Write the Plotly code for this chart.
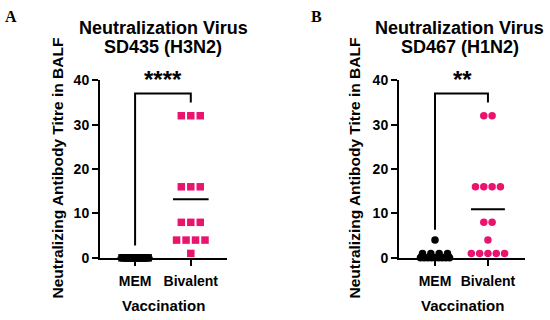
import numpy as np
import plotly.graph_objects as go

groups = ["MEM", "Bivalent"]
a_mem = [0, 0, 0, 0, 0, 0, 0, 0, 0, 0, 0, 0, 0, 0]
a_biv = [32, 32, 32, 16, 16, 16, 8, 8, 8, 4, 4, 4, 4, 1]
b_mem = [4, 1, 1, 1, 1, 0, 0, 0, 0, 0, 0, 0, 0, 0]
b_biv = [32, 32, 16, 16, 16, 16, 8, 8, 4, 1, 1, 1, 1, 1]
y_ticks = [0, 10, 20, 30, 40]
title_line1 = ["Neutralization Virus", "Neutralization Virus"]
title_line2 = ["SD435 (H3N2)", "SD467 (H1N2)"]
stars = ["****", "**"]
letters = ["A", "B"]

PINK = "#E8146E"
W, H = 550, 320
FONT = "Liberation Sans, Arial, sans-serif"


def swarm(values, center, step, maxw):
    xs, ys = [], []
    vals = np.array(values)
    for v in sorted(set(values), reverse=True):
        n = int((vals == v).sum())
        sp = step if n < 2 else min(step, maxw / (n - 1))
        for i in range(n):
            xs.append(center + (i - (n - 1) / 2) * sp)
            ys.append(v)
    return xs, ys


fig = go.Figure()

panels = [
    dict(mem=a_mem, biv=a_biv, sym="square", step=0.17, size=7.5,
         xdom=(100, 227), xr=(-0.63, 1.65), mem_w=0.47, bracket=(2.8, 37, 35)),
    dict(mem=b_mem, biv=b_biv, sym="circle", step=0.157, size=7.5,
         xdom=(399, 525), xr=(-0.68, 1.70), mem_w=0.55, bracket=(6.3, 37, 35)),
]

ydom = (1 - 263 / H, 1 - 76 / H)

for k, p in enumerate(panels):
    xa = "x" if k == 0 else "x2"
    ya = "y" if k == 0 else "y2"
    mx, my = swarm(p["mem"], 0, p["step"], p["mem_w"])
    fig.add_trace(go.Scatter(x=mx, y=my, mode="markers", xaxis=xa, yaxis=ya,
                             marker=dict(symbol=p["sym"], size=p["size"], color="black"),
                             cliponaxis=False, showlegend=False))
    bx, by = swarm(p["biv"], 1, p["step"], 0.8)
    fig.add_trace(go.Scatter(x=bx, y=by, mode="markers", xaxis=xa, yaxis=ya,
                             marker=dict(symbol=p["sym"], size=p["size"], color=PINK),
                             cliponaxis=False, showlegend=False))
    for gi, vals in enumerate([p["mem"], p["biv"]]):
        m = float(np.mean(vals))
        fig.add_trace(go.Scatter(x=[gi - 0.32, gi + 0.32], y=[m, m], mode="lines",
                                 xaxis=xa, yaxis=ya, line=dict(color="black", width=2),
                                 cliponaxis=False, showlegend=False))
    lo, top, right = p["bracket"]
    fig.add_trace(go.Scatter(x=[0, 0, 1, 1], y=[lo, top, top, right], mode="lines",
                             xaxis=xa, yaxis=ya, line=dict(color="black", width=2),
                             cliponaxis=False, showlegend=False))

    x0, x1 = p["xdom"]
    axis_x = dict(domain=[x0 / W, x1 / W], range=list(p["xr"]), tickmode="array",
                  tickvals=[0, 1], ticktext=groups, ticks="outside", ticklen=6,
                  tickwidth=2, tickcolor="black", showline=True, linewidth=2,
                  linecolor="black", showgrid=False, zeroline=False,
                  ticklabelstandoff=3,
                  tickfont=dict(family=FONT, size=14, color="black", weight="bold"),
                  anchor=ya, fixedrange=True)
    axis_y = dict(domain=list(ydom), range=[0, 40], tickmode="array", tickvals=y_ticks,
                  ticks="outside", ticklen=6, tickwidth=2, tickcolor="black",
                  showline=True, linewidth=2, linecolor="black", showgrid=False,
                  zeroline=False, anchor=xa,
                  tickfont=dict(family=FONT, size=14, color="black", weight="bold"))
    if k == 0:
        fig.update_layout(xaxis=axis_x, yaxis=axis_y)
    else:
        fig.update_layout(xaxis2=axis_x, yaxis2=axis_y)

ann = []
title_cx = [163, 460]
ytitle_cx = [58, 355]
star_cx = [163, 462]
letter_cx = [11, 316]
vacc_cx = [163, 462]


def add(text, x, y, size, family=FONT, angle=0):
    ann.append(dict(x=x / W, y=1 - y / H, xref="paper", yref="paper", text=text,
                    textangle=angle, showarrow=False, xanchor="center", yanchor="middle",
                    font=dict(family=family, size=size, color="black", weight="bold")))


for k in range(2):
    add(title_line1[k], title_cx[k], 21, 18)
    add(title_line2[k], title_cx[k], 41, 18)
    add("Neutralizing Antibody Titre in BALF", ytitle_cx[k], 169, 15.5, angle=-90)
    add("Vaccination", vacc_cx[k], 313, 15)
    add(stars[k], star_cx[k], 75, 24)
    add(letters[k], letter_cx[k], 9, 16,
        family="Liberation Serif, Times New Roman, serif")

fig.update_layout(width=W, height=H, margin=dict(l=0, r=0, t=0, b=0),
                  paper_bgcolor="white", plot_bgcolor="white", annotations=ann,
                  showlegend=False)

fig.write_html("out.html", config={"displayModeBar": False},
               post_script="document.body.style.margin='0';document.body.style.overflow='hidden';")
